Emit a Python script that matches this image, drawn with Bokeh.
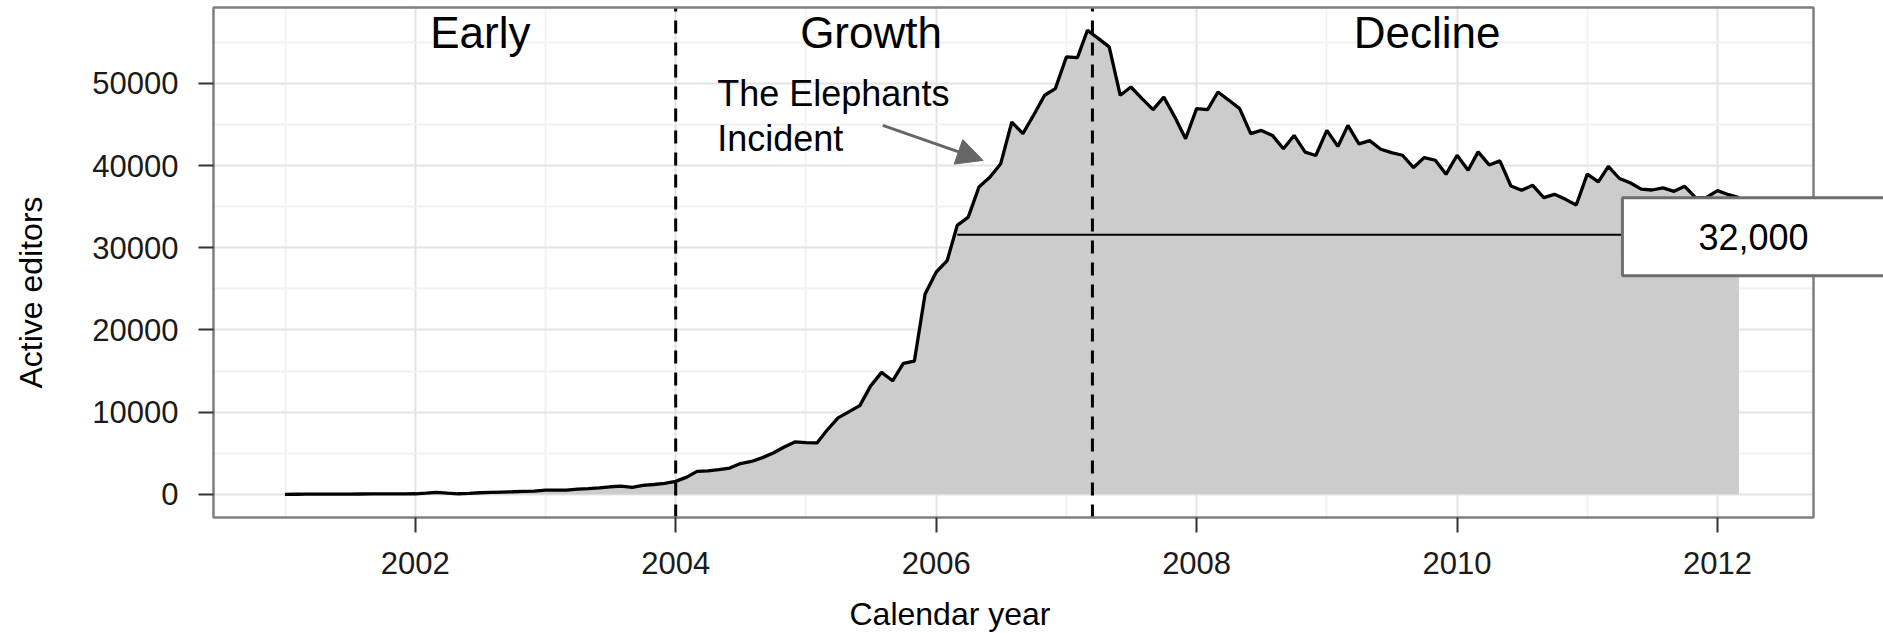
import math
import pandas as pd
from bokeh.plotting import figure
from bokeh.models import Range1d, FixedTicker, Label, Arrow, NormalHead, ColumnDataSource, Title
from bokeh.embed import file_html
from bokeh.resources import INLINE

# ---------------- data ----------------
first_month = "2001-01"
active_editors = [
    10, 15, 20, 25, 30, 35, 40, 45, 50, 55, 60, 65,                                   # 2001
    73, 150, 235, 150, 73, 120, 195, 240, 280, 317, 360, 400,                         # 2002
    520, 520, 520, 640, 700, 780, 925, 1000, 845, 1100, 1200, 1350,                   # 2003
    1585, 2100, 2800, 2850, 3000, 3200, 3750, 4000, 4470, 5040, 5770, 6380,           # 2004
    6300, 6260, 7800, 9300, 10040, 10800, 13170, 14840, 13820, 15930, 16220, 24390,   # 2005
    27030, 28450, 32720, 33730, 37390, 38600, 40230, 45300, 43880, 46120, 48560, 49360,  # 2006
    53220, 53140, 56470, 55450, 54440, 48550, 49560, 48140, 46800, 48330, 45900, 43270,  # 2007
    46930, 46800, 48950, 47940, 46930, 43880, 44280, 43670, 42050, 43670, 41640, 41230,  # 2008
    44280, 42330, 44880, 42650, 43040, 41990, 41585, 41260, 39760, 40975, 40650, 38940,  # 2009
    41260, 39430, 41670, 40080, 40570, 37520, 36990, 37600, 36100, 36500, 35890, 35200,  # 2010
    38960, 38010, 39900, 38430, 37910, 37130, 37030, 37280, 36870, 37480, 36060, 36140,  # 2011
    36950, 36460, 36100,                                                              # 2012
]
era_boundaries = ["2004-01-01", "2007-03-15"]
era_names = ["Early", "Growth", "Decline"]
era_centers = [2002.5, 2005.5, 2009.77]
era_label_y = 56250
threshold_value = 31600
threshold_text = "32,000"
threshold_start = "2006-03-01"
incident_lines = ["The Elephants", "Incident"]
x_ticks = [2002, 2004, 2006, 2008, 2010, 2012]
x_minor = [2001, 2003, 2005, 2007, 2009, 2011]
y_ticks = [0, 10000, 20000, 30000, 40000, 50000]
y_minor = [5000, 15000, 25000, 35000, 45000, 55000]
x_title = "Calendar year"
y_title = "Active editors"

# panel (plotting area) limits, in data units
panel_x = (2000.451, 2012.737)
panel_y = (-2814, 59233)


def dec_year(ts):
    ts = pd.Timestamp(ts)
    days = 366 if ts.is_leap_year else 365
    return ts.year + (ts.dayofyear - 1) / days


months = pd.date_range(first_month, periods=len(active_editors), freq="MS")
t = [dec_year(m) for m in months]
src = ColumnDataSource(dict(t=t, v=active_editors, zero=[0] * len(t)))

FONT = "Liberation Sans"

# The frame runs to the right edge of the canvas so that the value box
# can stick out past the panel border, like in the original.
p = figure(
    frame_width=1672, frame_height=514,
    min_border_left=211, min_border_right=0, min_border_top=5, min_border_bottom=114,
    x_range=Range1d(2000.4356, 2013.2744), y_range=Range1d(-3057, 59476),
    output_backend="svg", toolbar_location=None,
    background_fill_color="white", border_fill_color="white",
)
p.outline_line_color = None

# grids
p.xgrid.ticker = FixedTicker(ticks=x_ticks, minor_ticks=x_minor)
p.ygrid.ticker = FixedTicker(ticks=y_ticks, minor_ticks=y_minor)
for g in (p.xgrid, p.ygrid):
    g.grid_line_color = "#e3e3e3"
    g.grid_line_width = 2
    g.minor_grid_line_color = "#f2f2f2"
    g.minor_grid_line_width = 2

# axes
p.xaxis.ticker = FixedTicker(ticks=x_ticks)
p.yaxis.ticker = FixedTicker(ticks=y_ticks)
for ax in (p.xaxis, p.yaxis):
    ax.axis_line_color = None
    ax.major_tick_line_color = "#333333"
    ax.major_tick_line_width = 2
    ax.major_tick_out = 13
    ax.major_tick_in = 2
    ax.minor_tick_line_color = None
    ax.major_label_text_font = FONT
    ax.major_label_text_font_size = "31px"
    ax.major_label_text_color = "#1a1a1a"
p.xaxis.major_label_standoff = 19
p.yaxis.major_label_standoff = 20
# blank spacer label: pushes the y title outwards without moving the tick labels
p.yaxis.axis_label = " "
p.yaxis.axis_label_text_font_size = "2px"
p.yaxis.axis_label_standoff = 35

# axis titles (as side titles so they can be shifted like the original)
p.add_layout(Title(text=x_title, align="left", offset=638, standoff=35,
                   text_font=FONT, text_font_size="32px", text_font_style="normal",
                   text_color="black"), "below")
p.add_layout(Title(text=y_title, align="left", offset=131, standoff=2,
                   text_font=FONT, text_font_size="32px", text_font_style="normal",
                   text_color="black"), "left")

# area + line
p.varea(x="t", y1="zero", y2="v", source=src, fill_color="#cccccc")
p.line(x="t", y="v", source=src, line_color="black", line_width=3.3)

# threshold line
t_thr = dec_year(threshold_start)
p.segment(x0=[t_thr], y0=[threshold_value], x1=[t[-1]], y1=[threshold_value],
          line_color="black", line_width=2)

# era boundaries
bx = [dec_year(b) for b in era_boundaries]
p.segment(x0=bx, y0=[panel_y[0]] * len(bx), x1=bx, y1=[panel_y[1]] * len(bx),
          line_color="black", line_width=3, line_dash="13 9")

# blank out everything right of the panel, then draw the panel border
p.quad(left=[panel_x[1]], right=[2014.0], bottom=[-4000], top=[60000],
       fill_color="white", line_color=None)
p.quad(left=[panel_x[0]], right=[panel_x[1]], bottom=[panel_y[0]], top=[panel_y[1]],
       fill_color=None, line_color="#7f7f7f", line_width=2.5)

# era names
for name, cx in zip(era_names, era_centers):
    p.add_layout(Label(x=cx, y=era_label_y, text=name, text_align="center",
                       text_baseline="alphabetic", text_font=FONT,
                       text_font_size="44px", text_color="black"))

# incident annotation
p.add_layout(Label(x=2004.319, y=48810, text=incident_lines[0], text_align="left",
                   text_baseline="alphabetic", text_font=FONT, text_font_size="36px",
                   text_color="black"))
p.add_layout(Label(x=2004.319, y=43330, text=incident_lines[1], text_align="left",
                   text_baseline="alphabetic", text_font=FONT, text_font_size="36px",
                   text_color="black"))
p.add_layout(Arrow(end=NormalHead(size=26, fill_color="#666666", line_color="#666666"),
                   x_start=2005.59, y_start=44900, x_end=2006.36, y_end=40630,
                   line_color="#666666", line_width=3))

# threshold value box
p.add_layout(Label(x=2012.276, y=31330, text=threshold_text, text_align="center",
                   text_baseline="middle", text_font=FONT, text_font_size="36px",
                   text_color="black", background_fill_color="white",
                   border_line_color="#6e6e6e", border_line_width=3,
                   padding=(76, 76, 26, 26)))

open("out.html", "w").write(file_html(p, INLINE))
